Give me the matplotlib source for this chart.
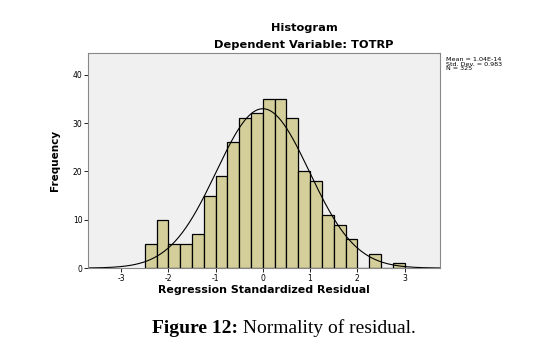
import numpy as np
import matplotlib.pyplot as plt

plt.rcParams["axes.unicode_minus"] = False

# histogram of standardized residuals (bin width 0.25)
bin_left = [-2.5, -2.25, -2.0, -1.75, -1.5, -1.25, -1.0, -0.75, -0.5, -0.25,
            0.0, 0.25, 0.5, 0.75, 1.0, 1.25, 1.5, 1.75, 2.0, 2.25, 2.5, 2.75]
counts = [5, 10, 5, 5, 7, 15, 19, 26, 31, 32,
          35, 35, 31, 20, 18, 11, 9, 6, 0, 3, 0, 1]
bin_width = 0.25
mean = 1.04e-14
std = 0.983
n = 325

fig = plt.figure(figsize=(5.5, 3.56), dpi=100)
ax = fig.add_axes([0.16, 0.247, 0.64, 0.604])
ax.set_facecolor("#f0f0f0")

ax.bar(bin_left, counts, width=bin_width, align="edge",
       color="#d4cf9a", edgecolor="black", linewidth=0.9)

# fitted normal curve scaled to counts
xs = np.linspace(-3.7, 3.75, 400)
pdf = n * bin_width * np.exp(-0.5 * ((xs - mean) / std) ** 2) / (std * np.sqrt(2 * np.pi))
ax.plot(xs, pdf, color="black", linewidth=0.8)

ax.set_xlim(-3.7, 3.75)
ax.set_ylim(0, 44.5)
ax.set_xticks([-3, -2, -1, 0, 1, 2, 3])
ax.set_yticks([0, 10, 20, 30, 40])
ax.tick_params(labelsize=5.5, length=3, width=0.6, pad=1)
for s in ax.spines.values():
    s.set_color("#888888")
    s.set_linewidth(0.8)

ax.set_xlabel("Regression Standardized Residual", fontsize=7.9, fontweight="bold", labelpad=2)
ax.set_ylabel("Frequency", fontsize=7.5, fontweight="bold", labelpad=9)

fig.text(0.553, 0.921, "Histogram", ha="center", va="center", fontsize=8.2, fontweight="bold")
fig.text(0.553, 0.874, "Dependent Variable: TOTRP", ha="center", va="center",
         fontsize=8.2, fontweight="bold")

fig.text(0.81, 0.82, "Mean = 1.04E-14\nStd. Dev. = 0.983\nN = 325",
         ha="left", va="center", fontsize=4.6, linespacing=0.95)

cap1 = fig.text(0.276, 0.078, "Figure 12:", ha="left", va="center", fontsize=14,
                fontweight="bold", family="Liberation Serif")
ax.annotate(" Normality of residual.", xy=(1, 0.5), xycoords=cap1, ha="left", va="center",
            fontsize=14, family="Liberation Serif", annotation_clip=False)

fig.savefig("out.png", dpi=100)
